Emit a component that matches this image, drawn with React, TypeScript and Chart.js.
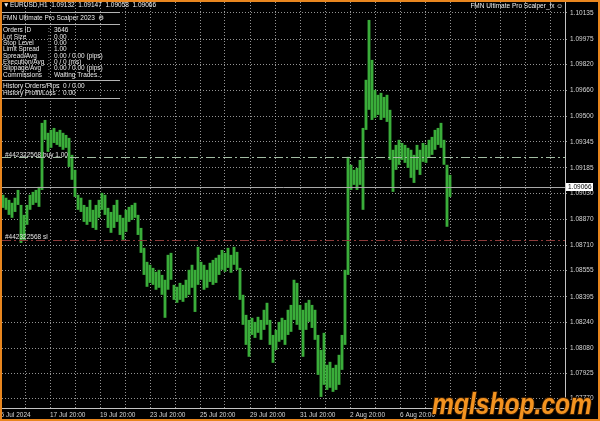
import { useEffect, useRef } from "react";
import { Chart, registerables } from "chart.js";

Chart.register(...registerables);

// ---------------- data ----------------
const SYMBOL = "EURUSD,H1";
const OHLC_TEXT = ["1.09132", "1.09147", "1.09058", "1.09066"];
const DATE_LABELS = [
  "15 Jul 2024",
  "17 Jul 20:00",
  "19 Jul 20:00",
  "23 Jul 20:00",
  "25 Jul 20:00",
  "29 Jul 20:00",
  "31 Jul 20:00",
  "2 Aug 20:00",
  "6 Aug 20:00",
];
const PRICE_TICKS = [
  1.10135, 1.09975, 1.0982, 1.0966, 1.095, 1.09345, 1.09185, 1.0903, 1.0887,
  1.0871, 1.08555, 1.08395, 1.0824, 1.0808, 1.07925, 1.0777,
];
const BAR_HIGHS = [
  1.0902, 1.09002, 1.08989, 1.08971, 1.09002, 1.0905, 1.08958, 1.08897, 1.08958, 1.0902,
  1.09038, 1.0905, 1.09069, 1.09461, 1.09479, 1.094, 1.09418, 1.0943, 1.09406, 1.09418,
  1.094, 1.09387, 1.09369, 1.09265, 1.09173, 1.0902, 1.09002, 1.08958, 1.08946, 1.08989,
  1.08928, 1.08958, 1.08989, 1.09032, 1.0902, 1.0894, 1.08915, 1.08958, 1.08989, 1.08897,
  1.08879, 1.08928, 1.08946, 1.08958, 1.08971, 1.08897, 1.08817, 1.08695, 1.08609, 1.08591,
  1.08572, 1.08548, 1.0856, 1.08529, 1.08499, 1.08652, 1.08664, 1.08468, 1.08456, 1.0848,
  1.08468, 1.08499, 1.0856, 1.08591, 1.0856, 1.08701, 1.08609, 1.08591, 1.0856, 1.08603,
  1.08621, 1.08634, 1.08652, 1.08682, 1.08664, 1.08695, 1.08652, 1.08701, 1.0867, 1.08572,
  1.08407, 1.08284, 1.08253, 1.08266, 1.08241, 1.08272, 1.08253, 1.08315, 1.08358, 1.08253,
  1.08161, 1.08192, 1.08241, 1.08266, 1.08253, 1.08315, 1.08345, 1.08499, 1.0848, 1.08345,
  1.08315, 1.08358, 1.08376, 1.08345, 1.08315, 1.08161, 1.08069, 1.08174, 1.07978, 1.07996,
  1.07959, 1.07978, 1.08039, 1.08161, 1.0856, 1.09253, 1.09204, 1.09173, 1.09185, 1.09234,
  1.0943, 1.09725, 1.10092, 1.09847, 1.09663, 1.09633, 1.09645, 1.0962, 1.09633, 1.09541,
  1.09296, 1.09326, 1.09357, 1.09338, 1.09326, 1.09308, 1.09296, 1.09265, 1.09326, 1.09296,
  1.09338, 1.09326, 1.09357, 1.09375, 1.09418, 1.0943, 1.09461, 1.09357, 1.09204, 1.09142,
];
const BAR_LOWS = [
  1.0894, 1.08928, 1.08897, 1.08879, 1.08915, 1.08958, 1.08725, 1.08744, 1.08836, 1.08928,
  1.08958, 1.08971, 1.08946, 1.0905, 1.09357, 1.09283, 1.09308, 1.09338, 1.09326, 1.09314,
  1.09296, 1.09308, 1.09191, 1.09112, 1.09007, 1.08928, 1.08915, 1.08854, 1.08836, 1.08854,
  1.08817, 1.08805, 1.08879, 1.08928, 1.08897, 1.08817, 1.08787, 1.08817, 1.08854, 1.08774,
  1.08744, 1.08793, 1.08854, 1.08866, 1.08879, 1.08774, 1.08664, 1.08529, 1.08456, 1.0848,
  1.08468, 1.08438, 1.0845, 1.08407, 1.08266, 1.08438, 1.08499, 1.08376, 1.08358, 1.08376,
  1.08364, 1.08388, 1.08407, 1.0845, 1.08302, 1.08468, 1.08499, 1.08438, 1.0845, 1.08486,
  1.08468, 1.0848, 1.08529, 1.0856, 1.08548, 1.08572, 1.08542, 1.08591, 1.0856, 1.08376,
  1.08223, 1.081, 1.08027, 1.08161, 1.08143, 1.08174, 1.08131, 1.08192, 1.08223, 1.081,
  1.0799, 1.08069, 1.08119, 1.08131, 1.081, 1.08161, 1.0818, 1.08253, 1.08223, 1.08192,
  1.08027, 1.08192, 1.08241, 1.08204, 1.08131, 1.07916, 1.07781, 1.07855, 1.07824, 1.07837,
  1.07812, 1.07824, 1.07855, 1.07947, 1.081, 1.08529, 1.0905, 1.09081, 1.0905, 1.09081,
  1.08928, 1.09418, 1.09541, 1.09479, 1.09492, 1.0951, 1.09479, 1.09492, 1.09467, 1.09234,
  1.09038, 1.09173, 1.09204, 1.09234, 1.09216, 1.09185, 1.09124, 1.09093, 1.09173, 1.09142,
  1.09222, 1.09216, 1.09247, 1.09265, 1.09296, 1.09326, 1.09308, 1.09204, 1.08824, 1.09007,
];
const CURRENT_PRICE = 1.09066;
const BUY_PRICE = 1.0925;
const SL_PRICE = 1.08744;
const ORDER_TICKET = "#442322568";
const ORDER_LOTS = "1.00";
const PANEL_TITLE = "FMN Ultimate Pro Scalper 2023";
const EA_NAME = "FMN Ultimate Pro Scalper_fx";
const PANEL_ROWS: [string, string][] = [
  ["Orders ID", "3646"],
  ["Lot Size", "0.00"],
  ["Stop Level", "0.00"],
  ["Limit Spread", "1.00"],
  ["Spread/Avg", "0.00 / 0.00 (pips)"],
  ["Execution/Avg", "0 / 0 (ms)"],
  ["Slippage/Avg", "0.00 / 0.00 (pips)"],
  ["Commissions", "Waiting Trades..."],
];
const HISTORY_ROWS: [string, string][] = [
  ["History Orders/Pips", "0 / 0.00"],
  ["History Profit/Loss", "0.00"],
];
const WATERMARK = "mqlshop.com";

// ---------------- layout / style ----------------
const W = 600;
const H = 421;
const PAD_L = 2;
const PAD_T = 2;
const AXIS_W = 35;
const AXIS_H = 13;
const SLOT_PX = 3;
const GRID_PX = 25;
const PLOT_W = W - PAD_L - AXIS_W;
const X_MIN = -1 / 3;
const X_MAX = X_MIN + PLOT_W / SLOT_PX;
const Y_MAX = 1.10202;
const Y_MIN = 1.07713;
const FONT = "'Liberation Sans', 'DejaVu Sans', sans-serif";
const SMALL = 6.5;
const GRID_COLOR = "rgba(190,190,190,0.78)";
const BAR_COLOR = "#3aad3a";
const ORANGE = "#e8861f";

const overlayPlugin = {
  id: "mtOverlay",
  beforeDraw(chart: any) {
    const { ctx, width, height } = chart;
    ctx.save();
    ctx.fillStyle = "#000";
    ctx.fillRect(0, 0, width, height);
    ctx.restore();
  },
  afterDatasetsDraw(chart: any) {
    const { ctx, chartArea: a } = chart;
    const y = chart.scales.y;
    const hline = (price: number, color: string, dash: number[]) => {
      const py = Math.round(y.getPixelForValue(price)) + 0.5;
      ctx.save();
      ctx.strokeStyle = color;
      ctx.lineWidth = 1;
      ctx.setLineDash(dash);
      ctx.beginPath();
      ctx.moveTo(a.left, py);
      ctx.lineTo(a.right, py);
      ctx.stroke();
      ctx.restore();
      return py;
    };
    hline(CURRENT_PRICE, "#a9a9a9", []);
    const by = hline(BUY_PRICE, "#a3bda3", [9, 3, 2, 3]);
    const sy = hline(SL_PRICE, "#8c3a3a", [9, 3, 2, 3]);
    ctx.save();
    ctx.font = `${SMALL}px ${FONT}`;
    ctx.textBaseline = "middle";
    ctx.fillStyle = "#e4e4e4";
    ctx.fillText(`${ORDER_TICKET} buy ${ORDER_LOTS}`, 5, by - 2.5);
    ctx.fillText(`${ORDER_TICKET} sl`, 5, sy - 3.5);
    ctx.restore();
  },
  afterDraw(chart: any) {
    const { ctx, chartArea: a } = chart;
    const y = chart.scales.y;
    ctx.save();
    // header
    ctx.font = `${SMALL}px ${FONT}`;
    ctx.textBaseline = "middle";
    ctx.fillStyle = "#f0f0f0";
    ctx.fillText("▼", 3, 5);
    ctx.fillText(`${SYMBOL}  ${OHLC_TEXT.join("  ")}`, 10, 5);
    // top-right EA name
    ctx.textAlign = "right";
    ctx.fillText(`${EA_NAME} ☺`, a.right - 2, 6);
    ctx.textAlign = "left";
    // panel separators
    ctx.strokeStyle = "#b4b4b4";
    ctx.lineWidth = 1;
    [12.5, 24.5, 80.5, 98.5].forEach((ly) => {
      ctx.beginPath();
      ctx.moveTo(PAD_L, ly);
      ctx.lineTo(120, ly);
      ctx.stroke();
    });
    ctx.font = `${SMALL}px ${FONT}`;
    ctx.fillStyle = "#eaeaea";
    ctx.fillText(`${PANEL_TITLE}  ⚙`, 3, 18);
    PANEL_ROWS.forEach(([k, v], i) => {
      const ly = 30.5 + i * 6.35;
      ctx.fillText(k, 3, ly);
      ctx.fillText(":", 48, ly);
      ctx.fillText(v, 54, ly);
    });
    HISTORY_ROWS.forEach(([k, v], i) => {
      const ly = 86.5 + i * 6.35;
      ctx.fillText(k, 3, ly);
      ctx.fillText(":", 58, ly);
      ctx.fillText(v, 63, ly);
    });
    // current price tag on axis
    const py = Math.round(y.getPixelForValue(CURRENT_PRICE));
    ctx.fillStyle = "#ffffff";
    ctx.fillRect(a.right + 1, py - 4, 27, 8);
    ctx.fillStyle = "#000";
    ctx.font = `${SMALL}px ${FONT}`;
    ctx.fillText(CURRENT_PRICE.toFixed(5), a.right + 3, py + 0.5);
    // watermark
    ctx.font = `bold italic 30px ${FONT}`;
    const tw = ctx.measureText(WATERMARK).width;
    const sx = 160 / tw;
    ctx.translate(432, 414);
    ctx.scale(sx, 1);
    ctx.textBaseline = "alphabetic";
    ctx.lineWidth = 2;
    ctx.strokeStyle = "#3a1c00";
    ctx.strokeText(WATERMARK, 0, 0);
    ctx.fillStyle = "#f39320";
    ctx.fillText(WATERMARK, 0, 0);
    ctx.restore();
    // orange frame
    ctx.save();
    ctx.strokeStyle = ORANGE;
    ctx.lineWidth = 2;
    ctx.strokeRect(1, 1, W - 2, H - 2);
    ctx.restore();
  },
};

export default function App() {
  const ref = useRef<HTMLCanvasElement | null>(null);

  useEffect(() => {
    document.body.style.margin = "0";
    const canvas = ref.current;
    if (!canvas) return;
    const data = BAR_HIGHS.map((h, i) => ({ x: i, y: [BAR_LOWS[i], h] }));
    const chart = new Chart(canvas, {
      type: "bar",
      data: {
        datasets: [
          {
            data: data as any,
            backgroundColor: BAR_COLOR,
            borderWidth: 0,
            barPercentage: 0.95,
            categoryPercentage: 1,
          },
        ],
      },
      options: {
        animation: false,
        responsive: false,
        events: [],
        layout: { padding: { left: PAD_L, top: PAD_T, right: 0, bottom: 0 } },
        plugins: { legend: { display: false }, tooltip: { enabled: false } },
        scales: {
          x: {
            type: "linear",
            min: X_MIN,
            max: X_MAX,
            bounds: "data",
            offset: false,
            grid: {
              offset: false,
              color: GRID_COLOR,
              lineWidth: 1,
              drawTicks: false,
            },
            border: { display: true, color: "#c4c4c4", width: 1, dash: [1, 2] },
            ticks: {
              autoSkip: false,
              maxRotation: 0,
              minRotation: 0,
              align: "start",
              padding: 3,
              color: "#d6d6d6",
              font: { family: FONT, size: SMALL },
              callback: (_v: any, idx: number) => {
                if (idx === 0) return DATE_LABELS[0];
                if (idx % 2 === 0 && idx / 2 < DATE_LABELS.length) return DATE_LABELS[idx / 2];
                return "";
              },
            },
            afterBuildTicks: (s: any) => {
              const ticks = [{ value: X_MIN - 5 / SLOT_PX }];
              for (let k = 1; k * GRID_PX < PAD_L + PLOT_W; k++) {
                ticks.push({ value: X_MIN + (k * GRID_PX - PAD_L) / SLOT_PX });
              }
              s.ticks = ticks;
            },
            afterFit: (s: any) => {
              s.height = AXIS_H;
              s.paddingLeft = 0;
              s.paddingRight = 0;
            },
          } as any,
          y: {
            type: "linear",
            position: "right",
            min: Y_MIN,
            max: Y_MAX,
            bounds: "data",
            grid: {
              color: GRID_COLOR,
              lineWidth: 1,
              drawTicks: true,
              tickLength: 4,
              tickBorderDash: [1, 2],
              tickColor: GRID_COLOR,
            },
            border: { display: true, color: "#c4c4c4", width: 1, dash: [1, 2] },
            ticks: {
              padding: 1,
              color: "#d6d6d6",
              font: { family: FONT, size: SMALL },
              callback: (v: any) => Number(v).toFixed(5),
            },
            afterBuildTicks: (s: any) => {
              s.ticks = PRICE_TICKS.map((v) => ({ value: v }));
            },
            afterFit: (s: any) => {
              s.width = AXIS_W;
              s.paddingTop = 0;
              s.paddingBottom = 0;
            },
          } as any,
        },
      },
      plugins: [overlayPlugin],
    });
    return () => chart.destroy();
  }, []);

  return (
    <div style={{ position: "absolute", left: 0, top: 0, width: W, height: H, background: "#000" }}>
      <canvas ref={ref} width={W} height={H} style={{ width: W, height: H, display: "block" }} />
    </div>
  );
}
